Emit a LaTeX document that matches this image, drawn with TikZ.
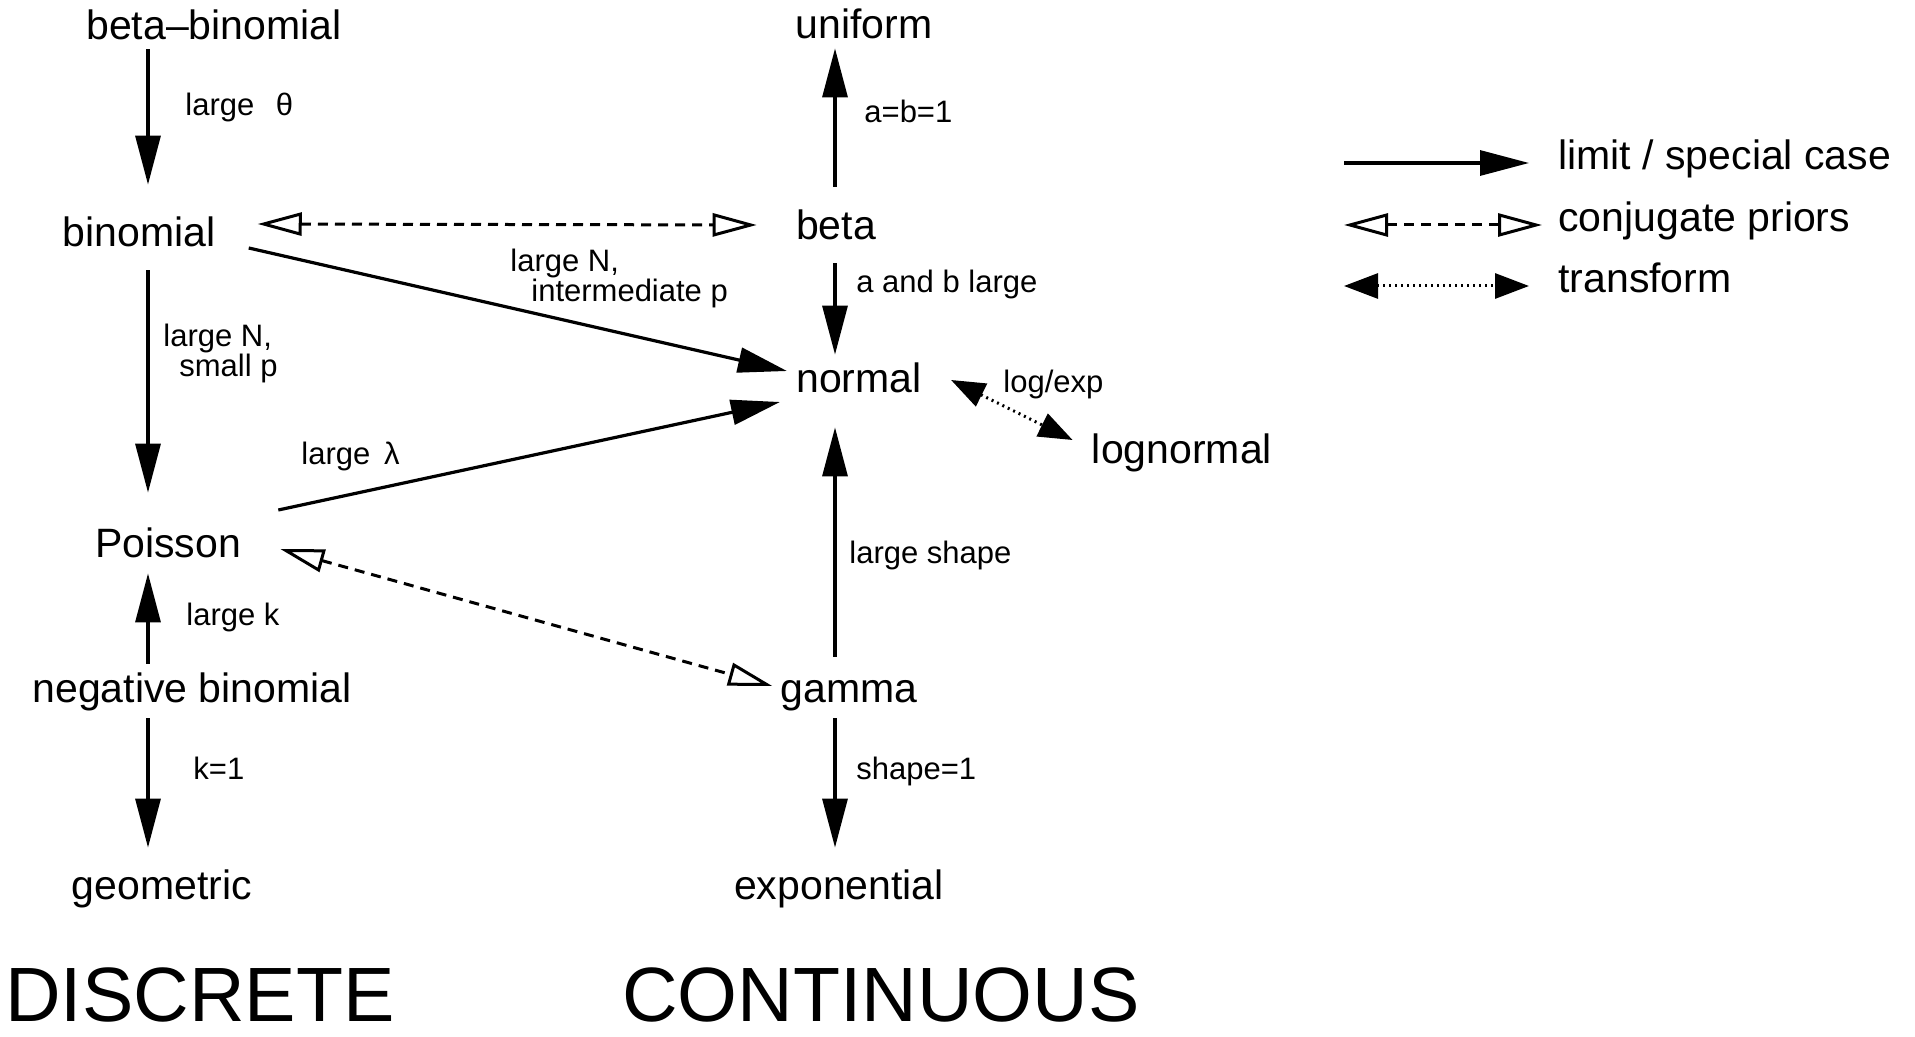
\documentclass[tikz,border=0pt]{standalone}
\usepackage{fontspec}
\setmainfont{Liberation Sans}
\usetikzlibrary{arrows.meta,calc}

\tikzset{
  dist/.style={font=\fontsize{20.5pt}{24pt}\selectfont, inner sep=0pt, text height=15pt, text depth=4.5pt, anchor=base},
  cond/.style={font=\fontsize{15.5pt}{14pt}\selectfont, inner sep=0pt, anchor=base west, align=left},
  kind/.style={font=\fontsize{38.5pt}{40pt}\selectfont, inner sep=0pt, anchor=base},
  limit/.style={line width=1.6pt, -{Triangle[length=24.5pt,width=12.5pt]}},
  conj/.style={line width=1.5pt, dash pattern=on 5pt off 3.5pt, {Triangle[open,length=22pt,width=11.5pt]}-{Triangle[open,length=22pt,width=11.5pt]}},
  trans/.style={line width=1.5pt, dash pattern=on 1pt off 2pt, {Triangle[length=17pt,width=12.5pt]}-{Triangle[length=17pt,width=12.5pt]}}
}

\begin{document}
\begin{tikzpicture}[x=0.5pt,y=-0.5pt]

    % Fix the page to the size of the figure
    \useasboundingbox (0,0) rectangle (1915,1037);

    % The two columns the vertical arrows run along
    \coordinate (dcol) at (148,0);
    \coordinate (ccol) at (835,0);

    % Distributions, discrete on the left, continuous on the right
    \node[dist] (betabin) at (214,40) {beta--binomial};
    \node[dist] (uniform) at (864,39) {uniform};
    \node[dist] (binomial) at (139,247) {binomial};
    \node[dist] (beta) at (836,240) {beta};
    \node[dist] (normal) at (859,393) {normal};
    \node[dist] (lognormal) at (1182,463) {lognormal};
    \node[dist] (poisson) at (168,557) {Poisson};
    \node[dist] (negbin) at (192,702) {negative binomial};
    \node[dist] (gamma) at (849,702) {gamma};
    \node[dist] (geometric) at (162,899) {geometric};
    \node[dist] (exponential) at (839,899) {exponential};

    % Column headings
    \node[kind] (discrete) at (200,1021) {DISCRETE};
    \node[kind] (continuous) at (881,1021) {CONTINUOUS};

    % Limits and special cases
    \draw[limit, shorten >=16pt] (betabin.south -| dcol) -- (binomial.north -| dcol);
    \draw[limit, shorten <=11.5pt] (beta.north -| ccol) -- (uniform.south -| ccol);
    \draw[limit, shorten <=7pt, shorten >=4pt] (beta.south -| ccol) -- (normal.north -| ccol);
    \draw[limit, shorten <=7pt, shorten >=17pt] (binomial.south -| dcol) -- (poisson.north -| dcol);
    \draw[limit, shorten <=4pt, shorten >=3.5pt] (negbin.north -| dcol) -- (poisson.south -| dcol);
    \draw[limit, shorten <=3.5pt, shorten >=10.5pt] (negbin.south -| dcol) -- (geometric.north -| dcol);
    \draw[limit, shorten <=7.5pt, shorten >=12.5pt] (gamma.north -| ccol) -- (normal.south -| ccol);
    \draw[limit, shorten <=3.5pt, shorten >=10.5pt] (gamma.south -| ccol) -- (exponential.north -| ccol);
    \draw[limit] ($(binomial.base east)+(33,1)$) -- ($(normal.base west)+(-9,-22)$);
    \draw[limit] ($(poisson.base east)+(37,-47)$) -- ($(normal.base west)+(-16,9)$);

    % Conjugate priors
    \draw[conj] ($(binomial.base east)+(42,-23)$) -- ($(beta.base west)+(-39,-15)$);
    \draw[conj] ($(poisson.base east)+(39,-8)$) -- ($(gamma.base west)+(-8,-16)$);

    % Transform
    \draw[trans] ($(normal.base east)+(29,-13)$) -- ($(lognormal.base west)+(-19,-23)$);

    % Conditions on the arrows (two-line ones are placed by their last line)
    \node[cond] (largetheta) at (185,116) {large\hspace{0.7em}θ};
    \node[cond] (abone) at (864,123) {a=b=1};
    \node[cond] (largeNint) at (510,302) {large N,\\\hspace*{10.5pt}intermediate p};
    \node[cond] (aandb) at (856,293) {a and b large};
    \node[cond] (largeNsmall) at (163,377) {large N,\\\hspace*{8pt}small p};
    \node[cond] (logexp) at (1003,393) {log/exp};
    \node[cond] (largelambda) at (301,464) {large\hspace{0.45em}λ};
    \node[cond] (largeshape) at (849,563) {large shape};
    \node[cond] (largek) at (186,625) {large k};
    \node[cond] (kone) at (193,779) {k=1};
    \node[cond] (shapeone) at (856,779) {shape=1};

    % Legend
    \coordinate (limA) at (1344,163);
    \coordinate (limB) at (1529,163);
    \coordinate (conjA) at (1344,225);
    \coordinate (conjB) at (1542,225);
    \coordinate (transA) at (1344,286);
    \coordinate (transB) at (1529,286);
    \draw[limit] (limA) -- (limB);
    \draw[conj] (conjA) -- (conjB);
    \draw[trans] (transA) -- (transB);
    \node[dist, anchor=base west] (leglimit) at (1558,170) {limit / special case};
    \node[dist, anchor=base west] (legconj) at (1558,232) {conjugate priors};
    \node[dist, anchor=base west] (legtrans) at (1558,293) {transform};

\end{tikzpicture}
\end{document}
